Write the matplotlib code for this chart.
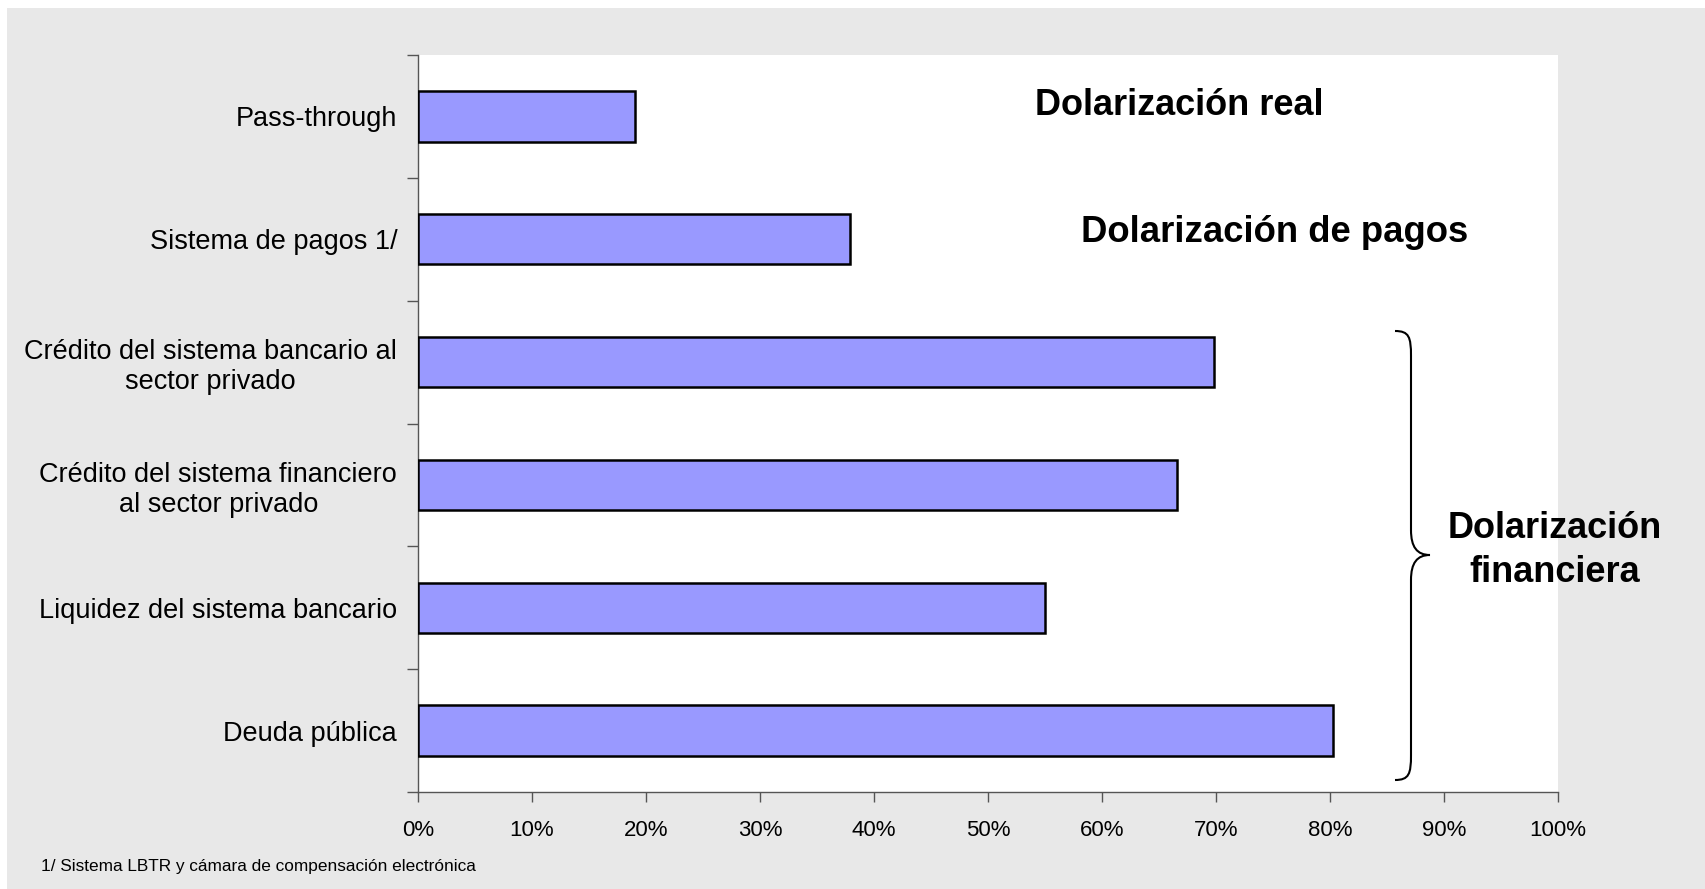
import matplotlib
matplotlib.use("Agg")
import matplotlib.pyplot as plt
from matplotlib.patches import Rectangle, PathPatch
from matplotlib.path import Path
from matplotlib.ticker import FuncFormatter, MultipleLocator

categories = [
    "Pass-through",
    "Sistema de pagos 1/",
    "Crédito del sistema bancario al\nsector privado",
    "Crédito del sistema financiero\nal sector privado",
    "Liquidez del sistema bancario",
    "Deuda pública",
]
values = [19.0, 37.9, 69.8, 66.6, 55.0, 80.3]
x_ticks = [0, 10, 20, 30, 40, 50, 60, 70, 80, 90, 100]
footnote = "1/ Sistema LBTR y cámara de compensación electrónica"

plt.rcParams['font.family'] = ['Liberation Sans', 'DejaVu Sans']

W, H = 1705, 889
fig = plt.figure(figsize=(W / 100, H / 100), dpi=100)
fig.patch.set_facecolor("white")
fig.patches.append(Rectangle((7 / W, 0), 1 - 7 / W, 1 - 8 / H, transform=fig.transFigure,
                             facecolor="#E8E8E8", edgecolor="none", zorder=-10))

ax_l, ax_r, ax_t, ax_b = 418, 1558, 55, 792
ax = fig.add_axes([ax_l / W, 1 - ax_b / H, (ax_r - ax_l) / W, (ax_b - ax_t) / H])
ax.set_zorder(1)
ax.set_facecolor("white")

ypos = list(range(len(categories)))
ax.barh(ypos, values, height=0.41, color="#9999FF", edgecolor="black", linewidth=1.8, zorder=3)

ax.set_xlim(0, 100)
ax.set_ylim(len(categories) - 0.5, -0.5)

ax.set_xticks(x_ticks)
ax.xaxis.set_major_formatter(FuncFormatter(lambda v, p: f"{int(v)}%"))
ax.tick_params(axis="x", direction="out", length=7, width=1, color="#555555",
               labelsize=16, pad=13)

ax.set_yticks(ypos)
ax.set_yticklabels(categories)
ax.tick_params(axis="y", which="major", length=0, labelsize=19.5, pad=15)
ax.yaxis.set_minor_locator(MultipleLocator(1, offset=0.5))
ax.tick_params(axis="y", which="minor", direction="out", length=8, width=1, color="#555555")
for lbl in ax.get_yticklabels():
    lbl.set_multialignment("center")

for s in ["top", "right"]:
    ax.spines[s].set_visible(False)
for s in ["left", "bottom"]:
    ax.spines[s].set_color("#555555")
    ax.spines[s].set_linewidth(1)

ax.text(66.8, -0.012, "Dolarización real", ha="center", va="baseline",
        fontsize=26, fontweight="bold", zorder=5)
ax.text(75.1, 1.022, "Dolarización de pagos", ha="center", va="baseline",
        fontsize=26.3, fontweight="bold", zorder=5)
ax.text(99.7, 3.432, "Dolarización", ha="center", va="baseline",
        fontsize=26, fontweight="bold", zorder=5, clip_on=False)
ax.text(99.7, 3.790, "financiera", ha="center", va="baseline",
        fontsize=26, fontweight="bold", zorder=5, clip_on=False)

# curly brace
def fx(px):
    return (px - ax_l) / (ax_r - ax_l)

def fy(py):
    return 1 - (py - ax_t) / (ax_b - ax_t)

x0, x1, x2 = 1395, 1411, 1430
yt, ym, yb = 331, 555, 780
pts = [
    (x0, yt), (x1 - 2, yt), (x1, yt + 6), (x1, yt + 25),
    (x1, ym - 25),
    (x1, ym - 8), (x1 + 6, ym), (x2, ym),
    (x1 + 6, ym), (x1, ym + 8), (x1, ym + 25),
    (x1, yb - 25),
    (x1, yb - 6), (x1 - 2, yb), (x0, yb),
]
codes = [Path.MOVETO, Path.CURVE4, Path.CURVE4, Path.CURVE4,
         Path.LINETO,
         Path.CURVE4, Path.CURVE4, Path.CURVE4,
         Path.CURVE4, Path.CURVE4, Path.CURVE4,
         Path.LINETO,
         Path.CURVE4, Path.CURVE4, Path.CURVE4]
path = Path([(fx(a), fy(b)) for a, b in pts], codes)
ax.add_patch(PathPatch(path, transform=ax.transAxes, facecolor="none",
                       edgecolor="black", linewidth=1.5, zorder=4, clip_on=False))

fig.text(41 / W, 1 - 867 / H, footnote, ha="left", va="center", fontsize=12.4)

fig.savefig("out.png", dpi=100)
